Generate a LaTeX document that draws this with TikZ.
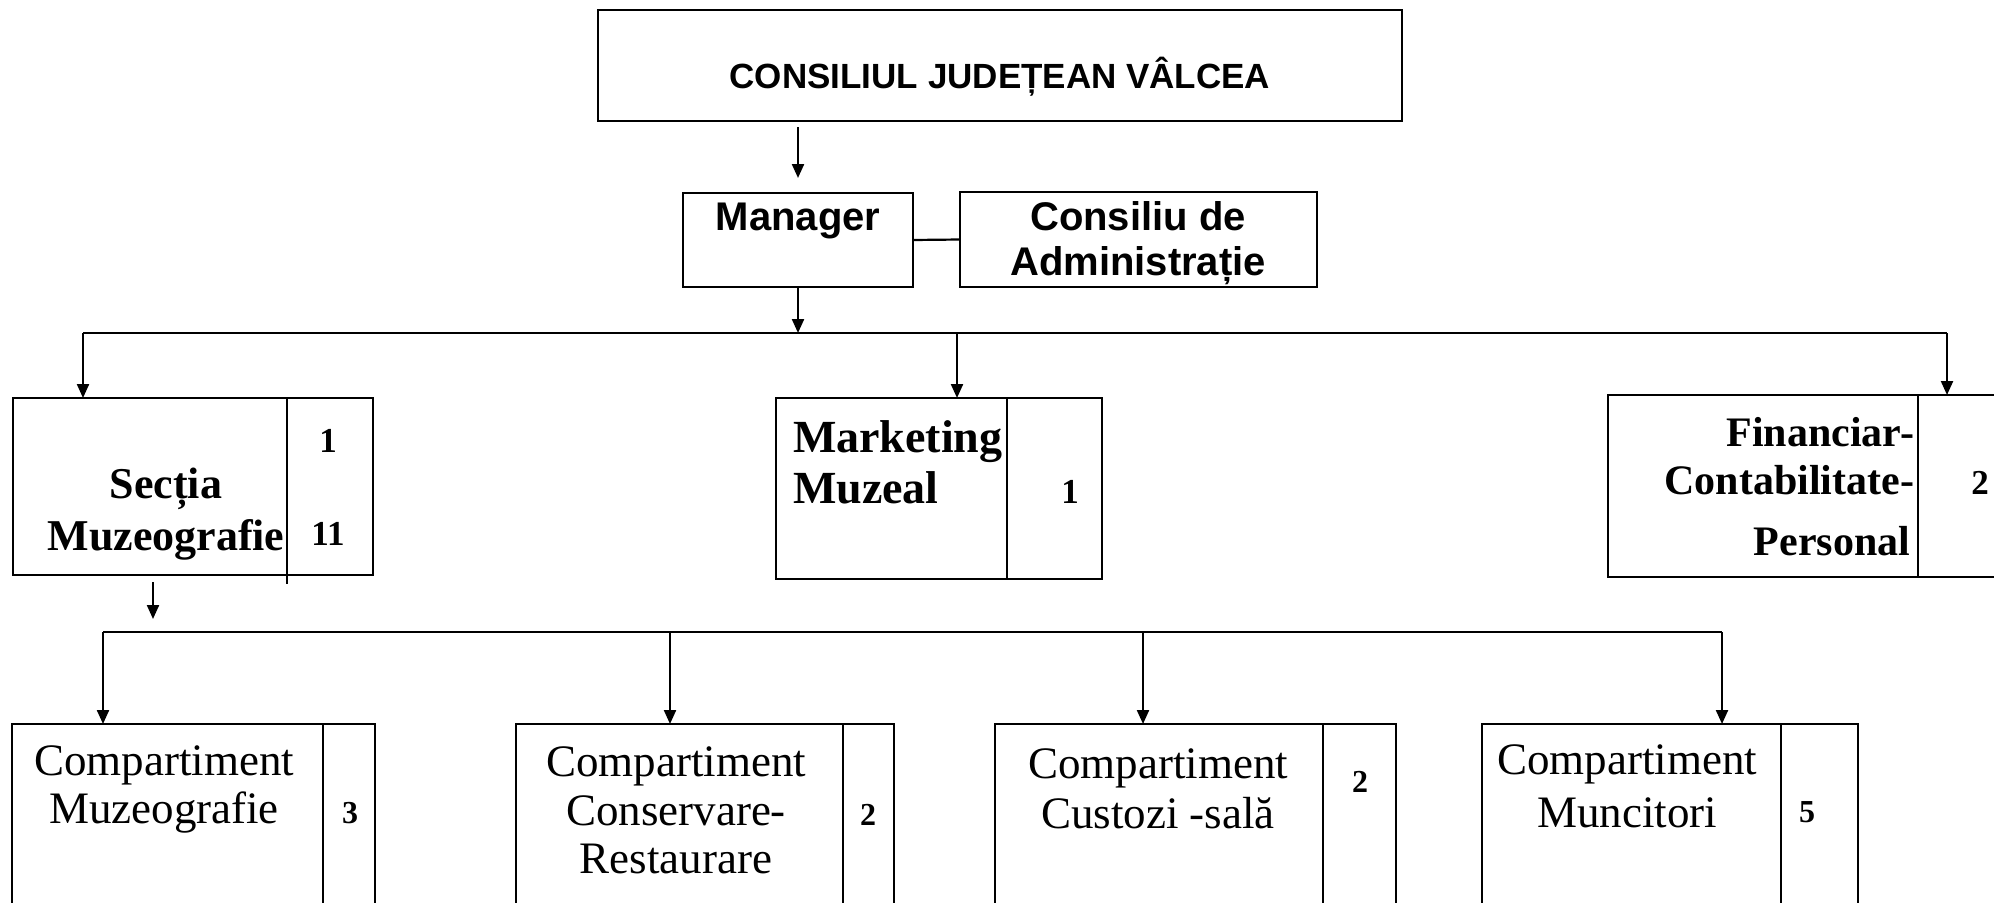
\documentclass[tikz,border=0pt]{standalone}
\usepackage{fontspec}
\setmainfont{Liberation Serif}
\newfontfamily\arialf{Liberation Sans}
\usetikzlibrary{arrows.meta}
\begin{document}
\begin{tikzpicture}[x=1pt,y=-1pt,
  cell/.style={draw, line width=2.5pt, inner sep=0pt, outer sep=0pt, anchor=north west},
  conn/.style={line width=2.2pt},
  arr/.style={conn, -{Triangle[length=14pt,width=12pt]}},
  txt/.style={inner sep=0pt, outer sep=0pt, anchor=base},
  ttitle/.style={txt, font={\arialf\bfseries\fontsize{35}{40}\selectfont}},
  tsans/.style={txt, font={\arialf\bfseries\fontsize{40}{46}\selectfont}},
  tbold/.style={txt, font={\bfseries\fontsize{44}{50}\selectfont}},
  tnum/.style={txt, font={\bfseries\fontsize{35}{40}\selectfont}},
  tsnum/.style={txt, font={\bfseries\fontsize{32}{36}\selectfont}},
  treg/.style={txt, font={\fontsize{45}{50}\selectfont}}
]
\path[use as bounding box, fill=white] (0,0) rectangle (1994,902);

% ---- boxes ----
\node[cell, minimum width=804pt, minimum height=111pt] (cjv) at (598,10) {};
\node[cell, minimum width=230pt, minimum height=94pt] (mgr) at (683,193) {};
\node[cell, minimum width=357pt, minimum height=95pt] (cons) at (960,192) {};

\node[cell, minimum width=274pt, minimum height=177pt] (secL) at (13,398) {};
\node[cell, minimum width=86pt, minimum height=177pt] (secR) at (287,398) {};
\node[cell, minimum width=231pt, minimum height=181pt] (mktL) at (776,398) {};
\node[cell, minimum width=95pt, minimum height=181pt] (mktR) at (1007,398) {};
\node[cell, minimum width=310pt, minimum height=182pt] (finL) at (1608,395) {};
\node[cell, minimum width=120pt, minimum height=182pt] (finR) at (1918,395) {};

\node[cell, minimum width=311pt, minimum height=200pt] (c1L) at (12,724) {};
\node[cell, minimum width=52pt, minimum height=200pt] (c1R) at (323,724) {};
\node[cell, minimum width=327pt, minimum height=200pt] (c2L) at (516,724) {};
\node[cell, minimum width=51pt, minimum height=200pt] (c2R) at (843,724) {};
\node[cell, minimum width=328pt, minimum height=200pt] (c3L) at (995,724) {};
\node[cell, minimum width=73pt, minimum height=200pt] (c3R) at (1323,724) {};
\node[cell, minimum width=299pt, minimum height=200pt] (c4L) at (1482,724) {};
\node[cell, minimum width=77pt, minimum height=200pt] (c4R) at (1781,724) {};

% ---- texts ----
\node[ttitle] (t0) at (1000,88) {CONSILIUL JUDEȚEAN VÂLCEA};
\node[tsans] (tm) at (798,230) {Manager};
\node[tsans] (tc1) at (1138,230) {Consiliu de};
\node[tsans] (tc2) at (1138,275) {Administrație};

\node[tbold] (ts1) at (166,498) {Secția};
\node[tbold] (ts2) at (166,550) {Muzeografie};
\node[tnum] (ns1) at (328,452) {1};
\node[tnum] (ns2) at (328,545) {11};

\node[tbold, anchor=base west, font={\bfseries\fontsize{46}{50}\selectfont}] (tk1) at (793,452) {Marketing};
\node[tbold, anchor=base west, font={\bfseries\fontsize{46}{50}\selectfont}] (tk2) at (793,503) {Muzeal};
\node[tnum] (nk) at (1070,503) {1};

\node[tbold, anchor=base east, font={\bfseries\fontsize{42}{48}\selectfont}] (tf1) at (1914,446) {Financiar-};
\node[tbold, anchor=base east, font={\bfseries\fontsize{42}{48}\selectfont}] (tf2) at (1914,494) {Contabilitate-};
\node[tbold, anchor=base east, font={\bfseries\fontsize{42}{48}\selectfont}] (tf3) at (1910,555) {Personal};
\node[tnum] (nf) at (1980,494) {2};

\node[treg] (a1) at (164,775) {Compartiment};
\node[treg] (a2) at (164,823) {Muzeografie};
\node[tsnum] (na) at (350,823) {3};

\node[treg] (b1) at (676,776) {Compartiment};
\node[treg] (b2) at (676,825) {Conservare-};
\node[treg] (b3) at (676,873) {Restaurare};
\node[tsnum] (nb) at (868,825) {2};

\node[treg] (d1) at (1158,778) {Compartiment};
\node[treg] (d2) at (1158,828) {Custozi -sală};
\node[tsnum] (nd) at (1360,792) {2};

\node[treg] (e1) at (1627,774) {Compartiment};
\node[treg] (e2) at (1627,827) {Muncitori};
\node[tsnum] (ne) at (1807,822) {5};

% ---- connectors ----
\draw[arr, shorten <=6pt, shorten >=15pt] (cjv.south -| mgr.north) -- (mgr.north);
\draw[conn] (mgr.east) -- (cons.west);

\coordinate (bus1) at (0,333);
\coordinate (b1a) at (83,333);
\coordinate (b1m) at (957,333);
\coordinate (b1b) at (1947,333);
\draw[arr] (mgr.south) -- (mgr.south |- bus1);
\draw[conn] (b1a) -- (b1b);
\draw[arr] (b1a) -- (b1a |- secL.north);
\draw[arr] (b1m) -- (b1m |- mktL.north);
\draw[arr] (b1b) -- (b1b |- finR.north);

\draw[conn] (secR.south west) -- ++(0,9);

\coordinate (sx) at (153,0);
\coordinate (bus2) at (0,632);
\coordinate (b2a) at (103,632);
\coordinate (b2b) at (670,632);
\coordinate (b2c) at (1143,632);
\coordinate (b2d) at (1722,632);
\draw[arr, shorten <=7pt, shorten >=13pt] (sx |- secL.south) -- (sx |- bus2);
\draw[conn] (b2a) -- (b2d);
\draw[arr] (b2a) -- (b2a |- c1L.north);
\draw[arr] (b2b) -- (b2b |- c2L.north);
\draw[arr] (b2c) -- (b2c |- c3L.north);
\draw[arr] (b2d) -- (b2d |- c4L.north);
\end{tikzpicture}
\end{document}
